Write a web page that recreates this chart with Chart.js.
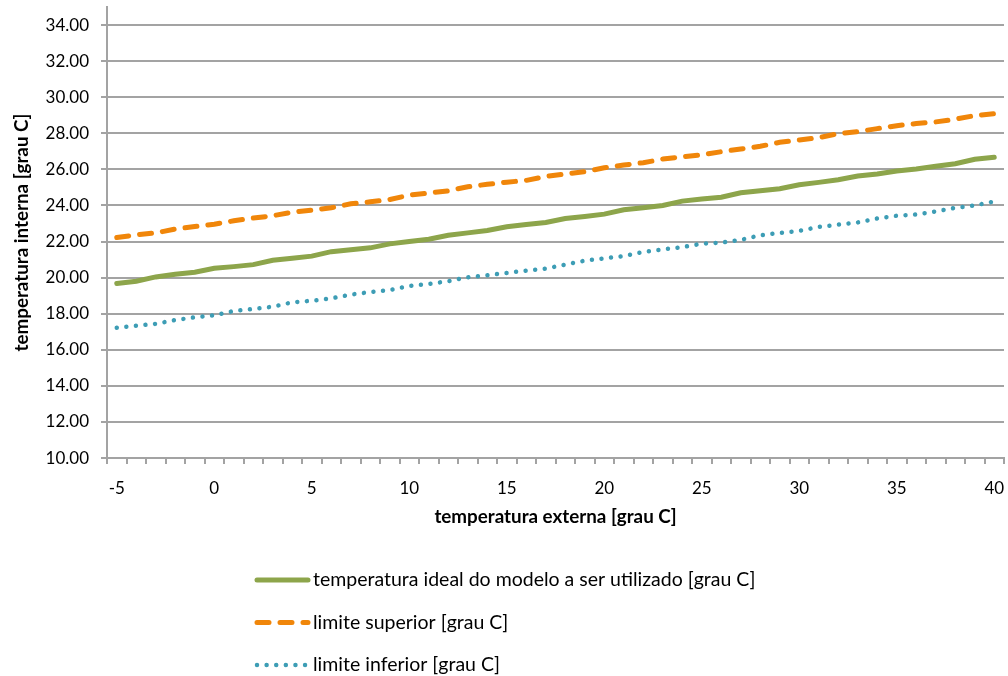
<!DOCTYPE html>
<html lang="pt">
    <head>
        <meta charset="UTF-8" />
        <title>Temperatura interna x externa</title>
        <script src="https://cdn.jsdelivr.net/npm/chart.js"></script>
        <style>
            body { margin: 0; background: #fff; }
        </style>
    </head>
    <body>
        <canvas id="myChart" width="1008" height="676"></canvas>

        <script>
            // temperatura externa (categorias -5 .. 40)
            const tempExterna = [];
            for (let t = -5; t <= 40; t++) tempExterna.push(t);

            // marcas do eixo y (o eixo vai ate 35, sem rotulo)
            const yTicks = [10, 12, 14, 16, 18, 20, 22, 24, 26, 28, 30, 32, 34];

            const tempIdeal = [
                19.68, 19.80, 20.04, 20.19, 20.30, 20.52, 20.61, 20.72, 20.96, 21.07,
                21.19, 21.44, 21.54, 21.65, 21.87, 22.00, 22.13, 22.35, 22.48, 22.61,
                22.82, 22.94, 23.06, 23.28, 23.39, 23.52, 23.76, 23.87, 24.00, 24.24,
                24.36, 24.46, 24.70, 24.81, 24.93, 25.15, 25.28, 25.43, 25.63, 25.74,
                25.91, 26.02, 26.17, 26.31, 26.56, 26.67
            ];
            const limiteSuperior = [
                22.22, 22.37, 22.48, 22.69, 22.83, 22.96, 23.15, 23.30, 23.43, 23.63,
                23.74, 23.87, 24.09, 24.20, 24.33, 24.57, 24.69, 24.81, 25.04, 25.17,
                25.29, 25.39, 25.61, 25.74, 25.87, 26.09, 26.24, 26.37, 26.57, 26.70,
                26.80, 26.98, 27.13, 27.28, 27.50, 27.63, 27.76, 27.98, 28.09, 28.26,
                28.42, 28.54, 28.63, 28.78, 28.98, 29.09
            ];
            const limiteInferior = [
                17.22, 17.33, 17.44, 17.65, 17.80, 17.91, 18.15, 18.26, 18.39, 18.63,
                18.72, 18.85, 19.06, 19.20, 19.31, 19.54, 19.65, 19.80, 20.02, 20.13,
                20.26, 20.39, 20.50, 20.72, 20.94, 21.07, 21.19, 21.43, 21.56, 21.69,
                21.88, 21.94, 22.09, 22.35, 22.48, 22.59, 22.81, 22.94, 23.06, 23.28,
                23.43, 23.50, 23.67, 23.87, 24.00, 24.22
            ];

            const seriesNames = [
                "temperatura ideal do modelo a ser utilizado [grau C]",
                "limite superior [grau C]",
                "limite inferior [grau C]",
            ];

            const FONT = "Lato, 'Open Sans', sans-serif";
            const GRID = "#a3a3a3";

            // legenda em linhas, abaixo do grafico
            const legendaPlugin = {
                id: "legendaLinhas",
                afterDraw(chart) {
                    const ctx = chart.ctx;
                    ctx.save();
                    chart.data.datasets.forEach((ds, i) => {
                        const y = 580 + i * 42.5;
                        ctx.beginPath();
                        ctx.strokeStyle = ds.borderColor;
                        ctx.lineWidth = ds.borderWidth;
                        ctx.lineCap = ds.borderCapStyle || "butt";
                        ctx.setLineDash(ds.borderDash || []);
                        ctx.moveTo(257, y);
                        ctx.lineTo(308, y);
                        ctx.stroke();
                        ctx.setLineDash([]);
                        ctx.fillStyle = "#000";
                        ctx.font = "19.5px " + FONT;
                        ctx.textBaseline = "middle";
                        ctx.fillText(ds.label, 313, y);
                    });
                    ctx.restore();
                },
            };

            var ctx = document.getElementById("myChart").getContext("2d");
            var myChart = new Chart(ctx, {
                type: "line",
                data: {
                    labels: tempExterna,
                    datasets: [
                        {
                            label: seriesNames[0],
                            data: tempIdeal,
                            borderColor: "#8da54b",
                            borderWidth: 5,
                            borderCapStyle: "round",
                            pointRadius: 0,
                            fill: false,
                        },
                        {
                            label: seriesNames[1],
                            data: limiteSuperior,
                            borderColor: "#f0860a",
                            borderWidth: 5,
                            borderDash: [12, 11],
                            borderCapStyle: "round",
                            pointRadius: 0,
                            fill: false,
                        },
                        {
                            label: seriesNames[2],
                            data: limiteInferior,
                            borderColor: "#3d9db5",
                            borderWidth: 4.5,
                            borderDash: [0.01, 9.6],
                            borderCapStyle: "round",
                            pointRadius: 0,
                            fill: false,
                        },
                    ],
                },
                options: {
                    responsive: false,
                    animation: false,
                    layout: {
                        padding: { left: 7, right: 4, top: 7, bottom: 144 },
                    },
                    plugins: {
                        legend: { display: false },
                        tooltip: { enabled: false },
                    },
                    scales: {
                        x: {
                            type: "category",
                            offset: true,
                            afterFit: (s) => {
                                s.paddingRight = 0;
                            },
                            grid: {
                                offset: true,
                                drawOnChartArea: false,
                                color: GRID,
                                lineWidth: 2,
                                tickLength: 6,
                            },
                            border: { color: GRID, width: 2 },
                            ticks: {
                                autoSkip: false,
                                maxRotation: 0,
                                color: "#000",
                                font: { family: FONT, size: 17 },
                                padding: 14,
                                callback: function (value, index) {
                                    const t = tempExterna[index];
                                    return t % 5 === 0 ? String(t) : "";
                                },
                            },
                            title: {
                                display: true,
                                text: "temperatura externa [grau C]",
                                color: "#000",
                                font: { family: FONT, size: 18.8, weight: "bold" },
                                padding: { top: -7, bottom: 4 },
                            },
                        },
                        y: {
                            min: 10,
                            max: 35,
                            afterBuildTicks: (s) => {
                                s.ticks = yTicks.map((v) => ({ value: v }));
                            },
                            afterFit: (s) => {
                                s.paddingTop = 0;
                            },
                            grid: {
                                color: GRID,
                                lineWidth: 2,
                                tickLength: 6,
                            },
                            border: { color: GRID, width: 2 },
                            ticks: {
                                color: "#000",
                                font: { family: FONT, size: 17 },
                                padding: 12,
                                callback: (v) => Number(v).toFixed(2),
                            },
                            title: {
                                display: true,
                                text: "temperatura interna [grau C]",
                                color: "#000",
                                font: { family: FONT, size: 18.8, weight: "bold" },
                                padding: { top: 4, bottom: 0 },
                            },
                        },
                    },
                },
                plugins: [legendaPlugin],
            });
        </script>
    </body>
</html>
